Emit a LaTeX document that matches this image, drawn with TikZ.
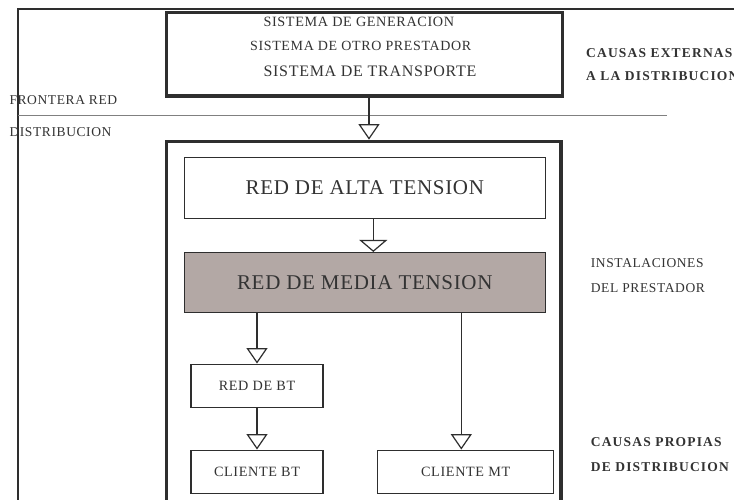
\documentclass[tikz,border=0pt]{standalone}
\usepackage{fontspec}
\setmainfont{Liberation Serif}
\newfontfamily\lbl[LetterSpace=4.5]{Liberation Serif}
\newfontfamily\grande[LetterSpace=3.3]{Liberation Serif}
\newfontfamily\causa[LetterSpace=8.7]{Liberation Serif}
\usetikzlibrary{arrows.meta}
\definecolor{linea}{HTML}{2E2E2E}
\definecolor{texto}{HTML}{333333}
\definecolor{media}{HTML}{B3A8A5}
\tikzset{
  caja/.style={draw=linea, line width=1.5pt, fill=white, inner sep=0pt, text=texto},
  marco/.style={draw=linea, line width=3.3pt, inner sep=0pt},
  flecha/.style={draw=linea, line width=1.2pt, -{Triangle[open, length=15.5pt, width=21pt]}},
  etiqueta/.style={anchor=base west, inner sep=0pt, text=texto, font={\lbl\fontsize{13.5}{15}\selectfont}},
  causas/.style={anchor=base west, inner sep=0pt, text=texto, font={\causa\bfseries\fontsize{13.5}{15}\selectfont}},
}

\begin{document}
\begin{tikzpicture}[x=1pt, y=-1pt]
	\useasboundingbox (0,0) rectangle (734,499);
	\clip (0,0) rectangle (734,499);
	\fill[white] (0,0) rectangle (734,499);
	\draw[linea, line width=2pt] (17.5,9) rectangle (760,530);

	\node[marco, minimum width=395.8pt, minimum height=83.3pt] (gen) at (364.4,54.35) {};
	\node[etiqueta, font={\lbl\fontsize{14.2}{16}\selectfont}] (gen1) at (263.3,26.7) {SISTEMA DE GENERACION};
	\node[etiqueta, font={\lbl\fontsize{14}{16}\selectfont}] (gen2) at (250,50) {SISTEMA DE OTRO PRESTADOR};
	\node[etiqueta, font={\lbl\fontsize{16}{18}\selectfont}] (gen3) at (263.3,76) {SISTEMA DE TRANSPORTE};

	\draw[gray, line width=.8pt] (18,115) -- (667,115);
	\node[etiqueta] (frontera) at (9.3,104) {FRONTERA RED};
	\node[etiqueta] (distrib) at (9.3,136.7) {DISTRIBUCION};

	\node[causas] (ext1) at (586,57.5) {CAUSAS EXTERNAS};
	\node[causas] (ext2) at (586,80.5) {A LA DISTRIBUCION};
	\node[etiqueta] (inst1) at (590.7,267.3) {INSTALACIONES};
	\node[etiqueta] (inst2) at (590.7,292.3) {DEL PRESTADOR};
	\node[causas] (prop1) at (590.7,446.5) {CAUSAS PROPIAS};
	\node[causas] (prop2) at (590.7,471.5) {DE DISTRIBUCION};

	\node[marco, minimum width=394.3pt, minimum height=418.7pt] (dist) at (363.85,350.65) {};

	\node[caja, minimum width=361pt, minimum height=60.8pt, font={\grande\fontsize{21}{24}\selectfont}] (at) at (364.8,188.1) {RED DE ALTA TENSION};
	\node[caja, fill=media, minimum width=361pt, minimum height=60pt, font={\grande\fontsize{21}{24}\selectfont}] (mt) at (364.8,282.7) {RED DE MEDIA TENSION};
	\node[caja, minimum width=132pt, minimum height=43.4pt, font={\lbl\fontsize{14.2}{16}\selectfont}] (bt) at (257,386) {RED DE BT};
	\node[caja, minimum width=132pt, minimum height=43.4pt, font={\lbl\fontsize{14.2}{16}\selectfont}] (cbt) at (257,472) {CLIENTE BT};
	\node[caja, minimum width=176pt, minimum height=43.4pt, font={\lbl\fontsize{14.2}{16}\selectfont}] (cmt) at (465.7,472) {CLIENTE MT};

	\coordinate (x1) at (369,0);
	\coordinate (x2) at (373.3,0);
	\coordinate (x3) at (461.3,0);
	\draw[flecha] (gen.south -| x1) -- (dist.north -| x1);
	\draw[flecha, -{Triangle[open, length=12pt, width=28pt]}] (at.south -| x2) -- (mt.north -| x2);
	\draw[flecha] (mt.south -| bt.north) -- (bt.north);
	\draw[flecha] (bt) -- (cbt);
	\draw[flecha] (mt.south -| x3) -- (cmt.north -| x3);
\end{tikzpicture}
\end{document}
